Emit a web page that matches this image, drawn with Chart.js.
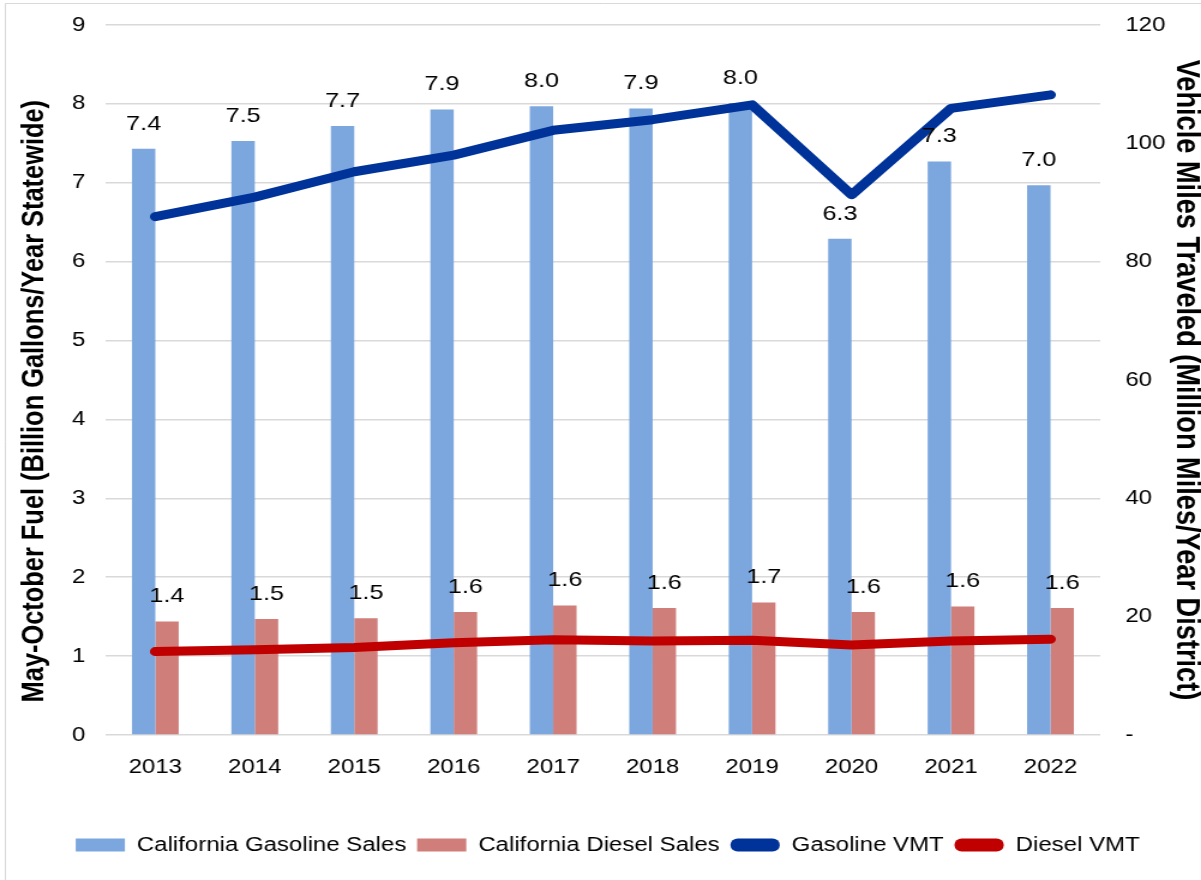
<!doctype html>
<html lang="en">

<head>
    <meta charset="utf-8">
    <title>May-October Fuel Sales and VMT</title>
</head>
<style>
    body {
        margin: 0;
        background-color: white;
    }

    /* the source picture is stretched sideways, so the canvas is drawn narrow and widened by css */
    #myChart {
        display: block;
        width: 1201px !important;
        height: 880px !important;
    }
</style>

<body>

    <canvas id="myChart" width="1001" height="880" style="width:1201px;height:880px"></canvas>

    <script src="https://cdn.jsdelivr.net/npm/chart.js"></script>

    <script>
        const years = ['2013', '2014', '2015', '2016', '2017', '2018', '2019', '2020', '2021', '2022'];
        // billion gallons, May-October, statewide
        const gasolineSales = [7.43, 7.53, 7.72, 7.93, 7.97, 7.94, 8.01, 6.29, 7.27, 6.97];
        const dieselSales = [1.44, 1.47, 1.48, 1.56, 1.64, 1.61, 1.68, 1.56, 1.63, 1.61];
        // million miles / year, district
        const gasolineVmt = [87.6, 90.9, 95.2, 98.0, 102.2, 104.0, 106.5, 91.3, 105.9, 108.2];
        const dieselVmt = [14.1, 14.4, 14.8, 15.6, 16.1, 15.9, 16.0, 15.2, 15.9, 16.2];

        const fuelTicks = { min: 0, max: 9, step: 1 };
        const vmtTicks = { min: 0, max: 120, step: 20 };

        const fontFamily = "'Liberation Sans', Arial, sans-serif";

        // light grey frame of the original figure box
        const framePlugin = {
            id: 'frame',
            beforeDraw: (chart) => {
                const ctx = chart.ctx;
                ctx.save();
                ctx.fillStyle = 'white';
                ctx.fillRect(0, 0, chart.width, chart.height);
                ctx.strokeStyle = '#d9d9d9';
                ctx.lineWidth = 1;
                ctx.beginPath();
                ctx.moveTo(4.5, chart.height);
                ctx.lineTo(4.5, 3.5);
                ctx.lineTo(chart.width, 3.5);
                ctx.stroke();
                ctx.restore();
            }
        };

        // value labels above each bar
        const barLabels = {
            id: 'barLabels',
            afterDatasetsDraw: (chart) => {
                const ctx = chart.ctx;
                ctx.save();
                ctx.font = '21px ' + fontFamily;
                ctx.fillStyle = '#000';
                ctx.textAlign = 'center';
                ctx.textBaseline = 'middle';
                chart.data.datasets.forEach((ds, i) => {
                    if (ds.type !== 'bar') return;
                    const meta = chart.getDatasetMeta(i);
                    meta.data.forEach((bar, j) => {
                        ctx.fillText(ds.data[j].toFixed(1), bar.x, bar.y - 25);
                    });
                });
                ctx.restore();
            }
        };

        const data = {
            labels: years,
            datasets: [{
                type: 'bar',
                label: 'California Gasoline Sales',
                data: gasolineSales,
                backgroundColor: '#7BA7DE',
                yAxisID: 'y',
                order: 1
            }, {
                type: 'bar',
                label: 'California Diesel Sales',
                data: dieselSales,
                backgroundColor: '#D07E7A',
                yAxisID: 'y',
                order: 1
            }, {
                type: 'line',
                label: 'Gasoline VMT',
                data: gasolineVmt,
                borderColor: '#003399',
                backgroundColor: '#003399',
                borderWidth: 9,
                pointRadius: 0,
                borderCapStyle: 'round',
                borderJoinStyle: 'round',
                tension: 0,
                yAxisID: 'y1',
                order: 0
            }, {
                type: 'line',
                label: 'Diesel VMT',
                data: dieselVmt,
                borderColor: '#C00000',
                backgroundColor: '#C00000',
                borderWidth: 9,
                pointRadius: 0,
                borderCapStyle: 'round',
                borderJoinStyle: 'round',
                tension: 0,
                yAxisID: 'y1',
                order: 0
            }]
        };

        const config = {
            type: 'bar',
            data: data,
            plugins: [framePlugin, barLabels],
            options: {
                responsive: false,
                devicePixelRatio: 1,
                animation: false,
                layout: {
                    padding: { top: 25, bottom: 15, left: 12, right: 0 }
                },
                datasets: {
                    bar: {
                        categoryPercentage: 0.47,
                        barPercentage: 1.0,
                        borderWidth: 0
                    }
                },
                plugins: {
                    tooltip: { enabled: false },
                    legend: {
                        position: 'bottom',
                        labels: {
                            color: '#000',
                            font: { family: fontFamily, size: 20 },
                            boxWidth: 41,
                            boxHeight: 13,
                            padding: 9,
                            generateLabels: (chart) => chart.data.datasets.map((ds, i) => ({
                                text: ds.label,
                                fillStyle: ds.type === 'line' ? ds.borderColor : ds.backgroundColor,
                                strokeStyle: ds.type === 'line' ? ds.borderColor : ds.backgroundColor,
                                lineWidth: 0,
                                borderRadius: ds.type === 'line' ? 6 : 0,
                                hidden: !chart.isDatasetVisible(i),
                                datasetIndex: i
                            }))
                        }
                    }
                },
                scales: {
                    x: {
                        grid: { display: false },
                        border: { display: false },
                        ticks: {
                            color: '#000',
                            font: { family: fontFamily, size: 20 },
                            padding: 12
                        },
                        afterFit: (scale) => { scale.height = 91; }
                    },
                    y: {
                        position: 'left',
                        min: fuelTicks.min,
                        max: fuelTicks.max,
                        grid: { color: '#d9d9d9', lineWidth: 1.5, drawTicks: false },
                        border: { display: false },
                        ticks: {
                            stepSize: fuelTicks.step,
                            color: '#000',
                            font: { family: fontFamily, size: 20 },
                            padding: 17
                        },
                        title: {
                            display: true,
                            // trailing spaces nudge the title down like the original
                            text: 'May-October Fuel (Billion Gallons/Year Statewide)\u00a0\u00a0\u00a0\u00a0\u00a0\u00a0',
                            color: '#000',
                            font: { family: fontFamily, size: 25.4, weight: 'bold' },
                            padding: { top: 1.7, bottom: 0 }
                        },
                        afterFit: (scale) => {
                            scale.width = 76;
                            scale.paddingTop = 0;
                            scale.paddingBottom = 0;
                        }
                    },
                    y1: {
                        position: 'right',
                        min: vmtTicks.min,
                        max: vmtTicks.max,
                        grid: { display: false, drawTicks: false },
                        border: { display: false },
                        ticks: {
                            stepSize: vmtTicks.step,
                            color: '#000',
                            font: { family: fontFamily, size: 20 },
                            padding: 21,
                            crossAlign: 'near',
                            callback: (value) => value === 0 ? '-' : value
                        },
                        title: {
                            display: true,
                            text: 'Vehicle Miles Traveled (Million Miles/Year District)',
                            color: '#000',
                            font: { family: fontFamily, size: 27.2, weight: 'bold' },
                            padding: { top: -4.3, bottom: 0 }
                        },
                        afterFit: (scale) => {
                            scale.width = 84;
                            scale.paddingTop = 0;
                            scale.paddingBottom = 0;
                        }
                    }
                }
            }
        };

        const myChart = new Chart(
            document.getElementById('myChart'),
            config
        );
    </script>

</body>

</html>
